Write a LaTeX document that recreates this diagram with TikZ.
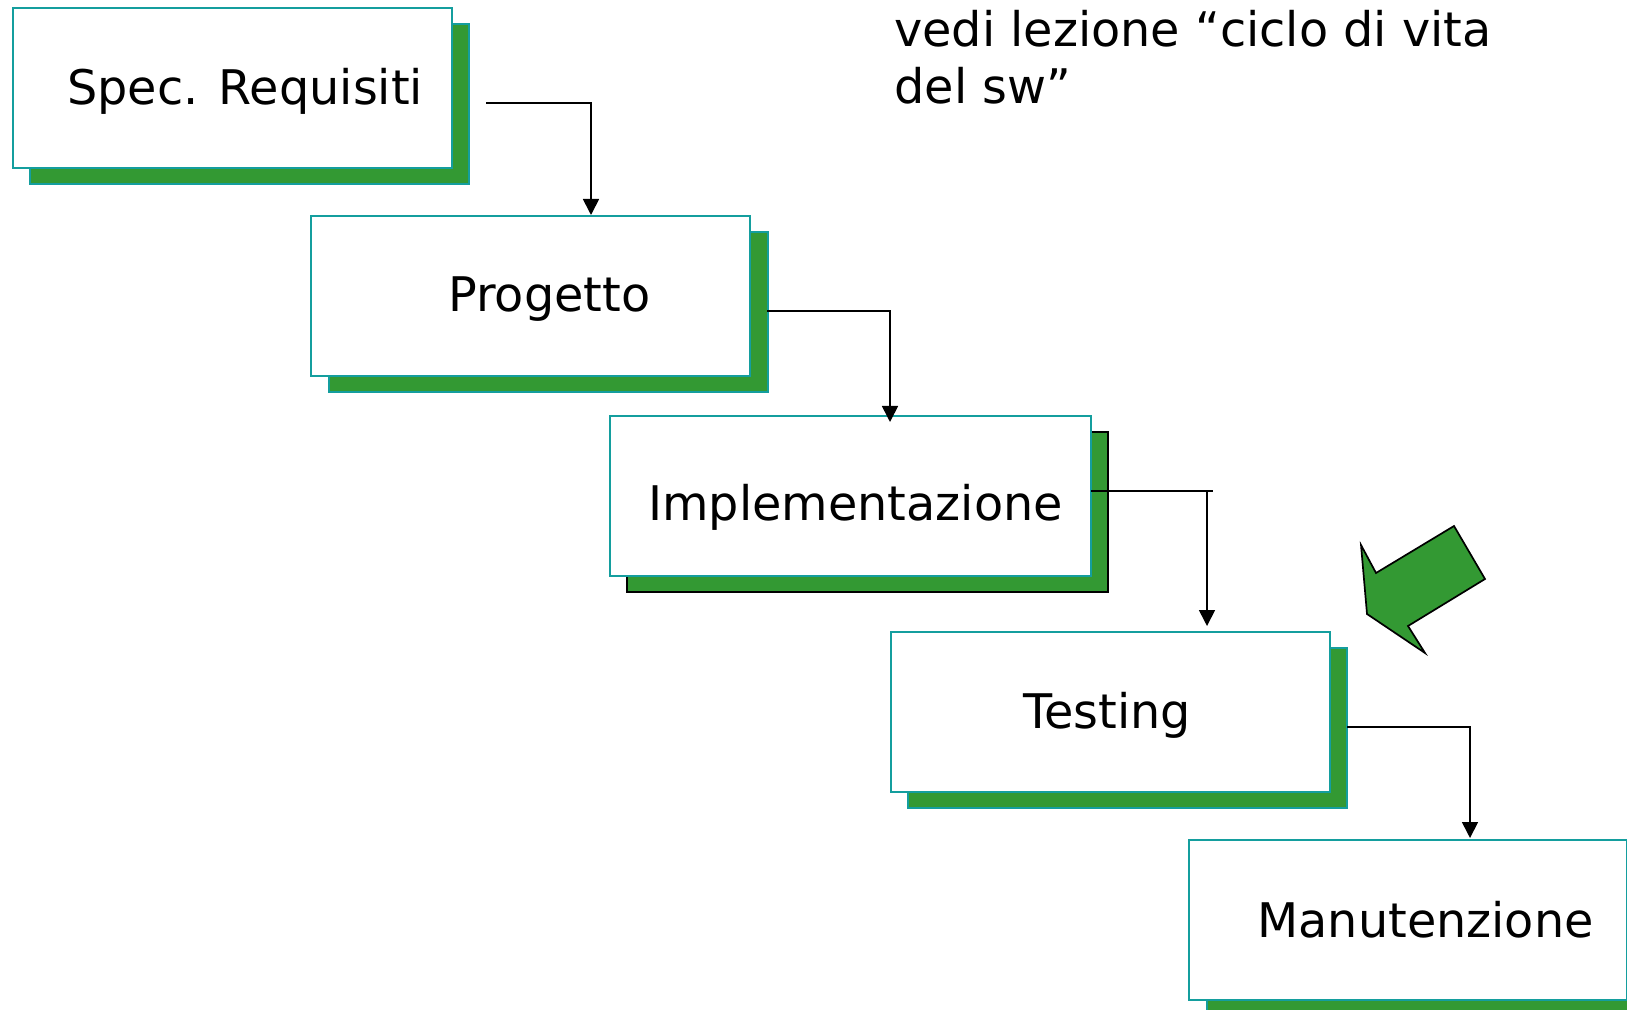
\documentclass[tikz,border=0pt]{standalone}
\usepackage{fontspec}
\setmainfont{DejaVu Sans}
\usetikzlibrary{arrows.meta}
\definecolor{boxgreen}{RGB}{51,153,51}
\definecolor{boxteal}{RGB}{20,158,158}
\tikzset{
  boxstyle/.style={draw=boxteal, fill=white, line width=0.9pt, rectangle, anchor=north west,
    minimum width=#1*0.5pt, minimum height=80pt, inner sep=0pt},
  shadowstyle/.style={draw=boxteal, fill=boxgreen, line width=0.9pt, rectangle, anchor=north west,
    minimum width=#1*0.5pt, minimum height=80pt, inner sep=0pt},
  lbl/.style={anchor=base west, inner sep=0pt, font=\fontsize{23.85}{28.5}\selectfont},
  conn/.style={draw=black, line width=0.85pt, -{Triangle[length=8pt,width=8pt]}},
  plainline/.style={draw=black, line width=0.85pt},
  bigarrow/.style={draw=black, fill=boxgreen, line width=0.85pt, line join=miter}
}
\begin{document}
\begin{tikzpicture}[x=0.5pt,y=-0.5pt]
\useasboundingbox (0,0) rectangle (1627,1010);
\clip (0,0) rectangle (1627,1010);
% shadows
\node[shadowstyle=439] (s1) at (29,23) {};
\node[shadowstyle=439] (s2) at (328,231) {};
\node[shadowstyle=481, draw=black] (s3) at (626,431) {};
\node[shadowstyle=439] (s4) at (907,647) {};
\node[shadowstyle=439] (s5) at (1206,854) {};
% boxes
\node[boxstyle=439] (b1) at (12,7) {};
\node[boxstyle=439] (b2) at (310,215) {};
\node[boxstyle=481] (b3) at (609,415) {};
\node[boxstyle=439] (b4) at (890,631) {};
\node[boxstyle=438] (b5) at (1188,839) {};
% labels
\node[lbl] (t1) at (67,105) {Spec. Requisiti};
\node[lbl] (t2) at (448,312) {Progetto};
\node[lbl] (t3) at (648,520) {Implementazione};
\node[lbl] (t4) at (1023,728) {Testing};
\node[lbl] (t5) at (1257,937) {Manutenzione};
\node[lbl] (n1) at (894,47) {vedi lezione “ciclo di vita};
\node[lbl] (n2) at (894,104) {del sw”};
% connector coordinates
\coordinate (c1s) at (486,103);
\coordinate (c1e) at (591,215);
\coordinate (c2s) at (767,311);
\coordinate (c2e) at (890,422);
\coordinate (c3s) at (1091,491);
\coordinate (c3o) at (1213,491);
\coordinate (c3t) at (1207,491);
\coordinate (c3e) at (1207,626);
\coordinate (c4s) at (1347,727);
\coordinate (c4e) at (1470,838);
\draw[conn] (c1s) -| (c1e);
\draw[conn] (c2s) -| (c2e);
\draw[plainline] (c3s) -- (c3o);
\draw[conn] (c3t) -- (c3e);
\draw[conn] (c4s) -| (c4e);
% big green arrow
\draw[bigarrow] (1361,545) -- (1376,573) -- (1454,526) -- (1485,579) -- (1408,626) -- (1425,653) -- (1367,614) -- cycle;
\end{tikzpicture}
\end{document}
